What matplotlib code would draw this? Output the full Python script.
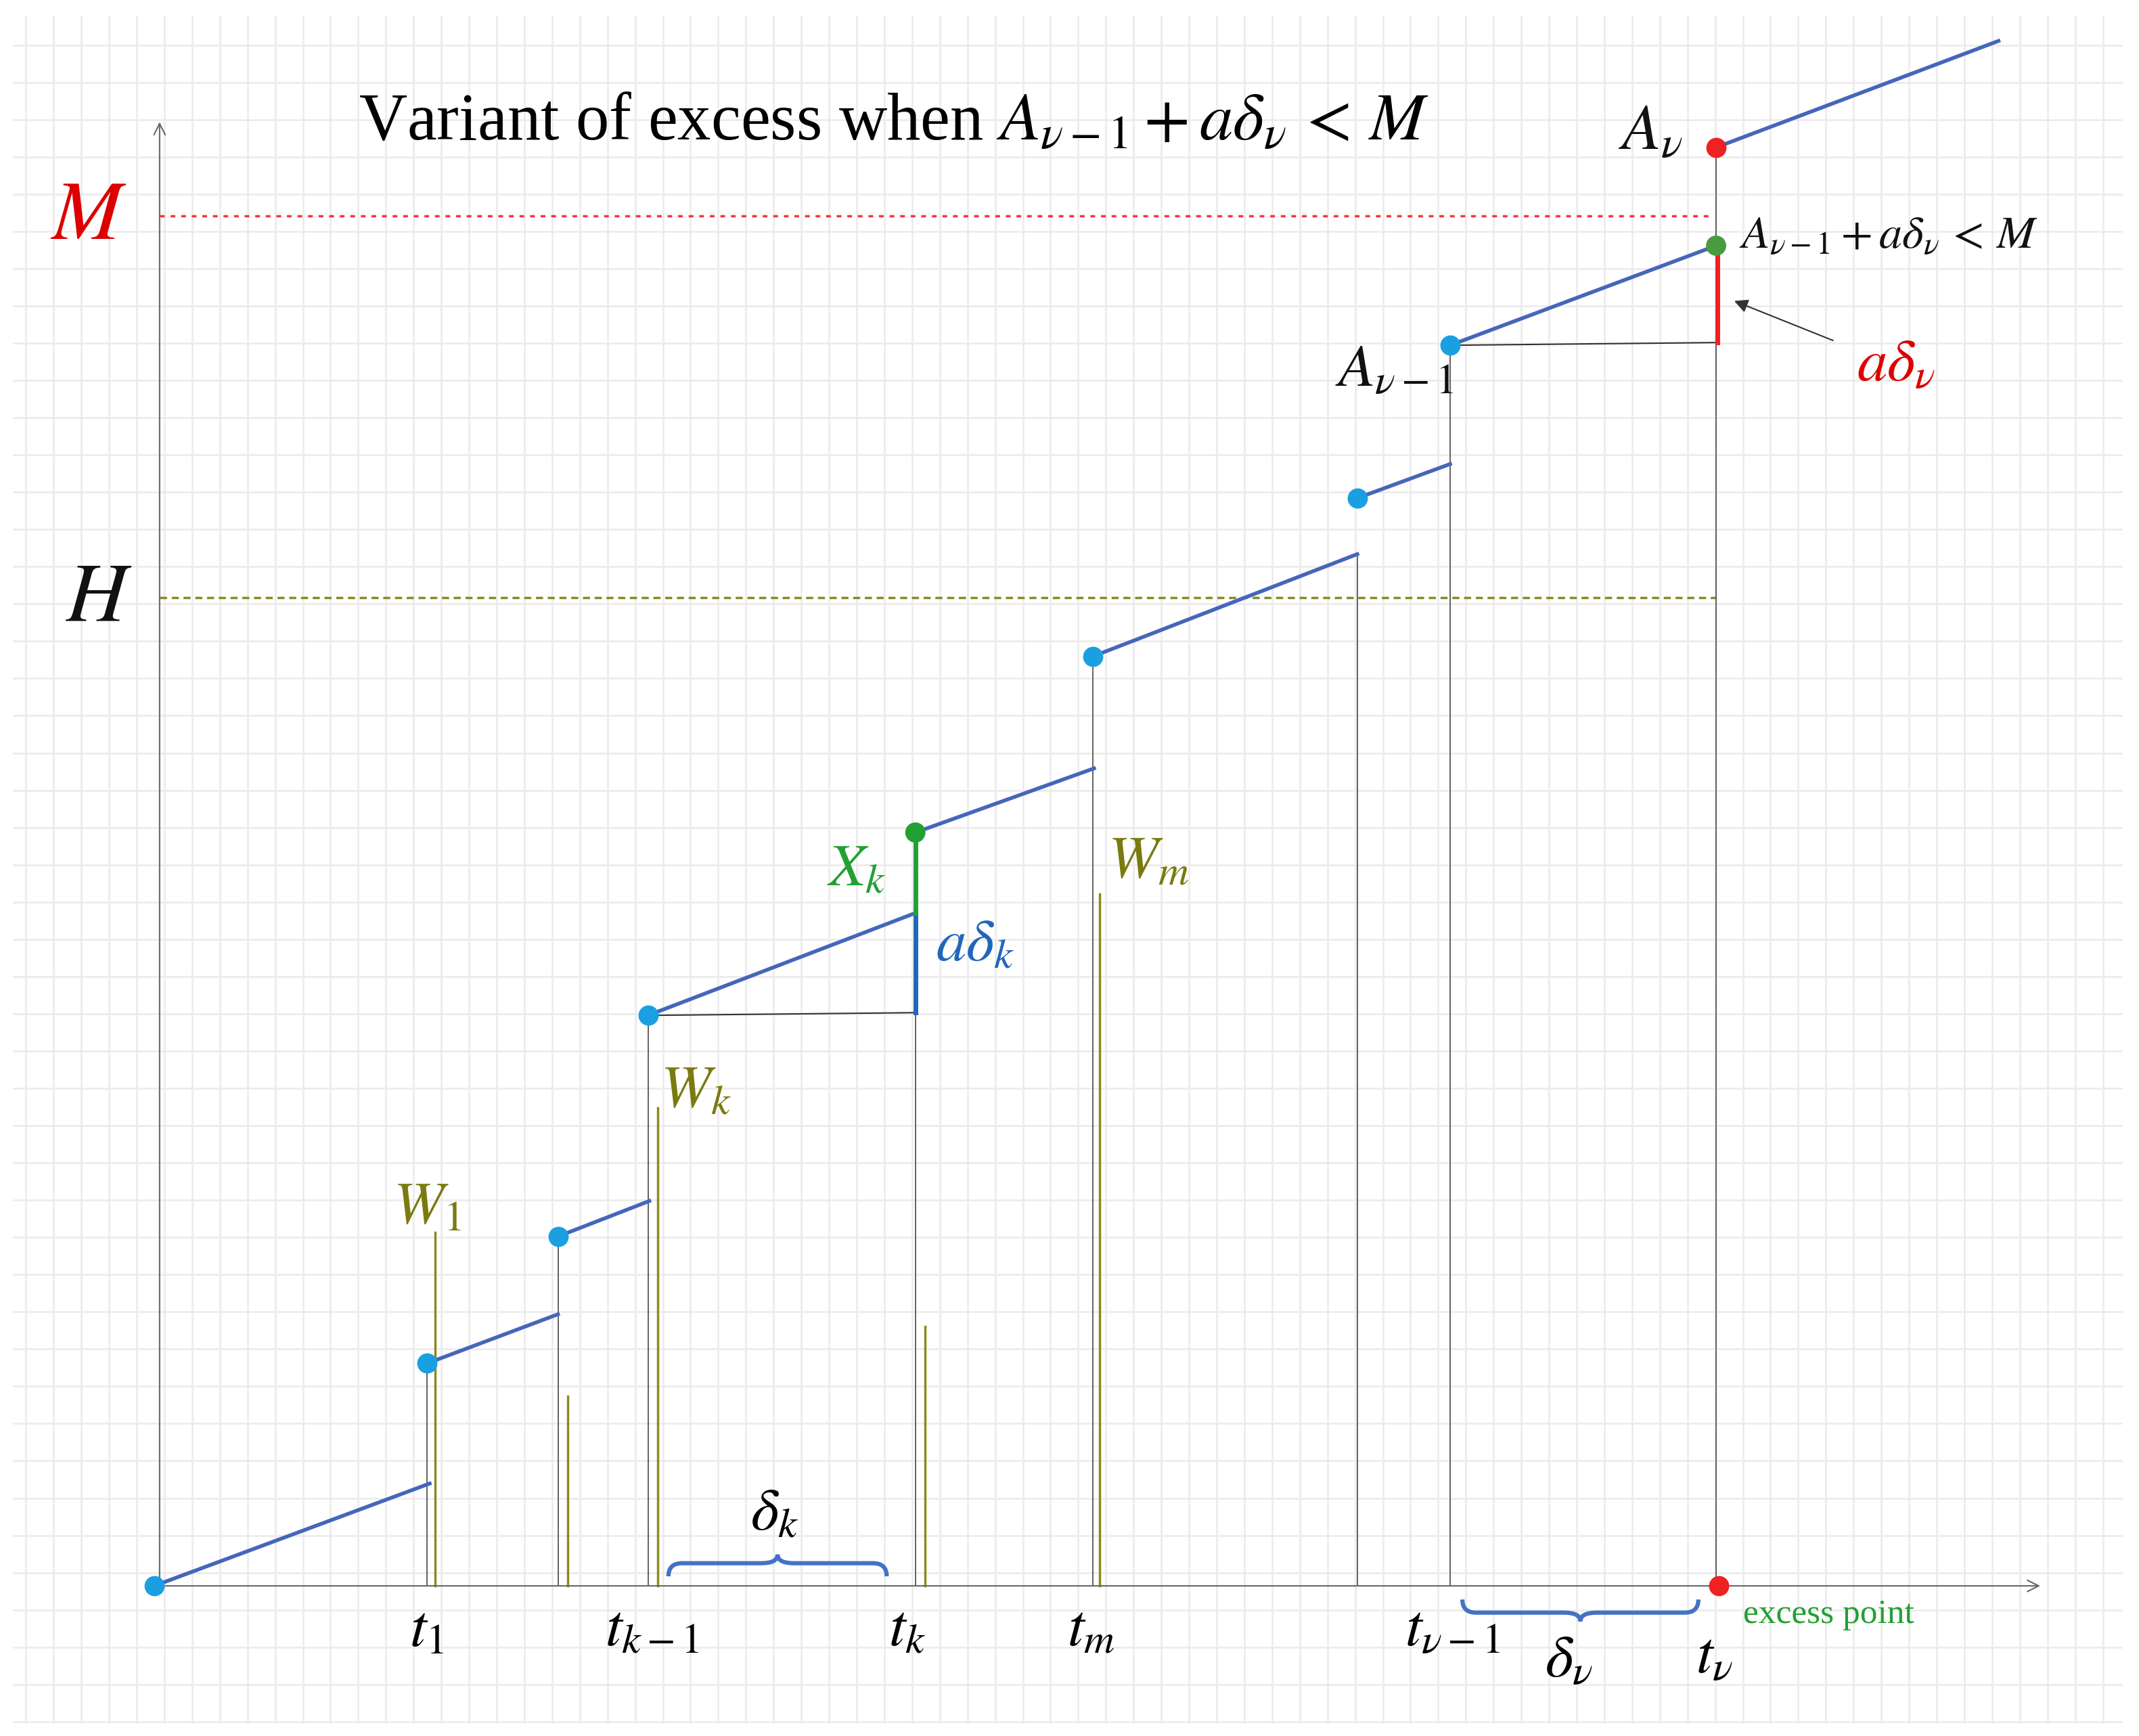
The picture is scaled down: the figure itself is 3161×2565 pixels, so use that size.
import numpy as np
import matplotlib
matplotlib.use("Agg")
import matplotlib.pyplot as plt
from matplotlib.path import Path
from matplotlib.patches import PathPatch

plt.rcParams['mathtext.fontset'] = 'stix'
plt.rcParams['font.family'] = ['Liberation Serif', 'DejaVu Serif']

# picture coordinates (y grows downward)
x_axis_y = 1162
y_axis_x = 117

# blue sawtooth segments: (x0, y0, x1, y1)
seg_x0 = [113, 313, 409, 475, 671, 801, 995, 1063, 1258]
seg_y0 = [1162, 999, 906, 744, 610, 481, 365, 253, 108]
seg_x1 = [315, 409, 476, 671, 802, 995, 1063, 1258, 1465]
seg_y1 = [1087, 963, 880, 669, 563, 406, 340, 180, 30]

blue_dots_x = [113, 313, 409, 475, 801, 995, 1063]
blue_dots_y = [1162, 999, 906, 744, 481, 365, 253]
green_dots_x = [671, 1258]
green_dots_y = [610, 180]
red_dots_x = [1258, 1260]
red_dots_y = [108, 1162]

# thin gray verticals: x, top
jump_x = [313, 409, 475, 671, 801, 995, 1063, 1258]
jump_top = [999, 906, 744, 669, 481, 406, 253, 108]

# olive W bars: x, top
w_x = [319, 416, 482, 678, 806]
w_top = [903, 1023, 812, 972, 655]

t_x = [313, 478, 665, 800, 1065, 1257]
t_lab = [r'$t_1$', r'$t_{k-1}$', r'$t_k$', r'$t_m$', r'$t_{\nu-1}$', r'$t_\nu$']

fig = plt.figure(figsize=(31.61, 25.65), dpi=100)
ax = fig.add_axes([0, 0, 1, 1])
ax.set_xlim(0, 1568)
ax.set_ylim(1272, 0)
ax.axis('off')

# grid paper
for gx in np.arange(19, 1556, 20.3):
    ax.plot([gx, gx], [12, 1262], color='#ebebeb', lw=1.8, zorder=0)
for gy in np.arange(33, 1262, 27.3):
    ax.plot([10, 1555], [gy, gy], color='#ebebeb', lw=1.8, zorder=0)

# axes
ax.annotate('', xy=(y_axis_x, 88), xytext=(y_axis_x, x_axis_y),
            arrowprops=dict(arrowstyle='->', color='#666666', lw=1.5, mutation_scale=30))
ax.annotate('', xy=(1497, x_axis_y), xytext=(y_axis_x, x_axis_y),
            arrowprops=dict(arrowstyle='->', color='#666666', lw=1.5, mutation_scale=30))

# levels
ax.plot([117, 1255], [158, 158], color='#ff3333', lw=2.5, ls=(0, (2, 2.5)))
ax.plot([117, 1258], [438, 438], color='#8a8a20', lw=2.5, ls=(0, (3, 2)))

for x, top in zip(jump_x, jump_top):
    ax.plot([x, x], [x_axis_y, top], color='#555555', lw=1.3, zorder=2)
for x, top in zip(w_x, w_top):
    ax.plot([x, x], [x_axis_y, top], color='#8a8a20', lw=2.5, zorder=2)

ax.plot([475, 671], [744, 742], color='#333333', lw=1.5)
ax.plot([1063, 1258], [253, 251], color='#333333', lw=1.5)

for x0, y0, x1, y1 in zip(seg_x0, seg_y0, seg_x1, seg_y1):
    ax.plot([x0, x1], [y0, y1], color='#4466bb', lw=4, zorder=3)

ax.plot([671, 671], [742, 669], color='#2266bb', lw=5, zorder=3)
ax.plot([671, 671], [669, 610], color='#22a033', lw=5, zorder=3)
ax.plot([1259, 1259], [251, 185], color='#ee2222', lw=5, zorder=3)

ax.scatter(blue_dots_x, blue_dots_y, s=420, color='#1aa0e0', zorder=5)
ax.scatter(green_dots_x, green_dots_y, s=420, color=['#22a033', '#4a9a40'], zorder=5)
ax.scatter(red_dots_x, red_dots_y, s=420, color='#ee2222', zorder=5)


def brace(x0, x1, y, h, color):
    xm = (x0 + x1) / 2
    verts = [(x0, y), (x0, y + h * 0.6), (x0 + 10, y + h * 0.6), (xm - 12, y + h * 0.6),
             (xm, y + h * 0.6), (xm, y + h), (xm, y + h),
             (xm, y + h * 0.6), (xm + 12, y + h * 0.6), (x1 - 10, y + h * 0.6),
             (x1, y + h * 0.6), (x1, y)]
    codes = [Path.MOVETO, Path.CURVE3, Path.CURVE3, Path.LINETO, Path.CURVE3, Path.CURVE3,
             Path.MOVETO, Path.CURVE3, Path.CURVE3, Path.LINETO, Path.CURVE3, Path.CURVE3]
    ax.add_patch(PathPatch(Path(verts, codes), fill=False, color=color, lw=4.5))


brace(490, 650, 1155, -16, '#4472c4')
brace(1072, 1245, 1172, 16, '#4472c4')

# text
ax.text(655, 90, r'Variant of excess when $A_{\nu-1}+a\delta_\nu\,<\,M$', fontsize=71,
        ha='center', va='center')
ax.text(65, 160, r'$M$', fontsize=90, color='#dd0000', ha='center', va='center')
ax.text(72, 440, r'$H$', fontsize=90, color='#111111', ha='center', va='center')
ax.text(313, 885, r'$W_1$', fontsize=64, color='#7a7a10', ha='center', va='center')
ax.text(510, 800, r'$W_k$', fontsize=64, color='#7a7a10', ha='center', va='center')
ax.text(842, 632, r'$W_m$', fontsize=64, color='#7a7a10', ha='center', va='center')
ax.text(628, 638, r'$X_k$', fontsize=64, color='#22a033', ha='center', va='center')
ax.text(715, 693, r'$a\delta_k$', fontsize=64, color='#2266bb', ha='center', va='center')
ax.text(1022, 272, r'$A_{\nu-1}$', fontsize=64, color='#111111', ha='center', va='center')
ax.text(1210, 98, r'$A_\nu$', fontsize=68, color='#111111', ha='center', va='center')
ax.text(1275, 174, r'$A_{\nu-1}+a\delta_\nu\,<\,M$', fontsize=49, color='#111111',
        ha='left', va='center')
ax.text(1390, 268, r'$a\delta_\nu$', fontsize=64, color='#dd0000', ha='center', va='center')
ax.annotate('', xy=(1270, 220), xytext=(1345, 250),
            arrowprops=dict(arrowstyle='-|>', color='#333333', lw=1.5, mutation_scale=30))
for x, lab in zip(t_x, t_lab):
    ax.text(x, 1195 if x < 1200 else 1215, lab, fontsize=64, ha='center', va='center')
ax.text(1150, 1218, r'$\delta_\nu$', fontsize=64, ha='center', va='center')
ax.text(568, 1110, r'$\delta_k$', fontsize=64, ha='center', va='center')
ax.text(1278, 1183, 'excess point', fontsize=37, color='#22a033', ha='left', va='center')

fig.savefig('out.png', dpi=100)
